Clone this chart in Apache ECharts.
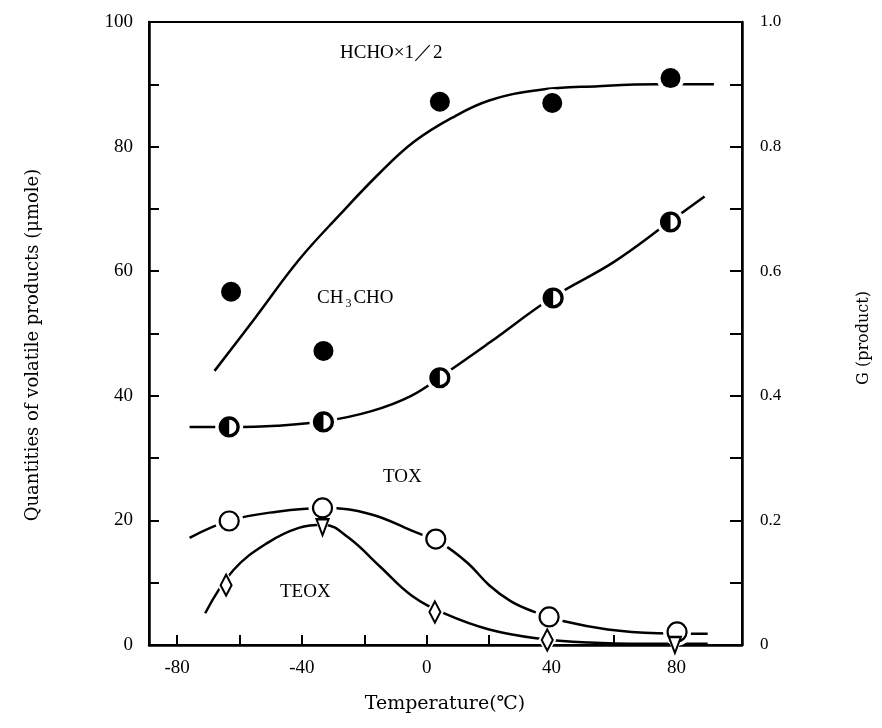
<!DOCTYPE html>
<html>
<head>
<meta charset="utf-8">
<script src="https://cdn.jsdelivr.net/npm/echarts@6/dist/echarts.min.js"></script>
<style>html,body{margin:0;padding:0;background:#fff}#c{width:882px;height:728px}</style>
</head>
<body>
<div id="c"></div>
<script>
// ---- data ----
const xTicks = [-80, -60, -40, -20, 0, 20, 40, 60, 80];
const xLabels = [-80, -40, 0, 40, 80];
const yTicks = [0, 10, 20, 30, 40, 50, 60, 70, 80, 90, 100];
const yLabels = [0, 20, 40, 60, 80, 100];
const gTicks = [0, 0.1, 0.2, 0.3, 0.4, 0.5, 0.6, 0.7, 0.8, 0.9, 1.0];
const gLabels = [0, 0.2, 0.4, 0.6, 0.8, 1.0];

// measured points [temperature, quantity]
const hchoPoints   = [[-62.7, 56.7], [-33.1, 47.2], [4.2, 87.2], [40.2, 87.0], [78.1, 91.0]];
const ch3choPoints = [[-63.3, 35.0], [-33.1, 35.8], [4.2, 42.9], [40.5, 55.7], [78.1, 67.9]];
const toxPoints    = [[-63.3, 19.9], [-33.4, 22.0], [2.9, 17.0], [39.2, 4.5], [80.2, 2.1]];
const teoxPoints   = [[-64.3, 9.6], [2.6, 5.3], [38.6, 0.8]];
const triPoints    = [[-33.4, 18.9], [79.5, 0.0]];

// fitted curves as drawn [temperature, quantity]
const hchoCurve = [[-68, 44], [-55, 52.5], [-41, 61.8], [-28, 69], [-15, 75.8], [-4, 80.8], [8, 84.6],
  [20, 87.4], [36, 89.1], [55, 89.7], [74, 90], [92, 90]];
const ch3choCurve = [[-76, 35], [-63, 35], [-48, 35.2], [-33, 35.9], [-18, 37.5], [-5, 40],
  [6, 43.6], [20, 48.5], [40, 55.7], [60, 61.5], [78, 68], [89, 72]];
const toxCurve = [[-76, 17.2], [-63, 20], [-48, 21.4], [-33, 22], [-18, 21], [-5, 18.4],
  [5, 16.2], [13, 13.2], [20, 9.6], [27, 7.0], [34, 5.4], [44, 3.8], [58, 2.5], [74, 1.9], [90, 1.8]];
const teoxCurve = [[-71, 5.1], [-62, 12], [-51, 16.4], [-41, 18.8], [-33, 19.3], [-25, 17.2],
  [-15, 12.6], [-5, 8.0], [6, 5.0], [20, 2.5], [35, 1.1], [52, 0.4], [70, 0.2], [90, 0.2]];

// ---- chart ----
const FONT = 'Liberation Serif';
const halfSymbol = 'path://M50,0A50,50,0,1,0,50,100A50,50,0,1,0,50,0ZM50,12A38,38,0,0,1,50,88L50,12Z';
const chart = echarts.init(document.getElementById('c'), null, {renderer: 'canvas'});

function curve(data) {
  return {type: 'line', data: data, smooth: 0.4, showSymbol: false, silent: true, z: 2,
    lineStyle: {color: '#000', width: 2.5}, clip: false};
}
function halo(data, symbol, size) {
  return {type: 'scatter', data: data, symbol: symbol, symbolSize: size, silent: true, z: 3, clip: false,
    itemStyle: {color: '#fff', borderWidth: 0, opacity: 1}};
}
function marker(data, symbol, size, fill, extra) {
  return Object.assign({type: 'scatter', data: data, symbol: symbol, symbolSize: size, silent: true, z: 4, clip: false,
    itemStyle: {color: fill, opacity: 1, borderColor: '#000', borderWidth: fill === '#000' ? 0 : 2.2}}, extra || {});
}

const axisLabelStyle = {color: '#000', fontFamily: FONT, fontSize: 19};

chart.setOption({
  animation: false,
  backgroundColor: '#fff',
  grid: {left: 149, right: 140, top: 22, bottom: 83, show: true, borderColor: '#000', borderWidth: 2, backgroundColor: 'transparent'},
  xAxis: {
    type: 'value', min: -89, max: 101,
    axisLine: {show: true, onZero: false, lineStyle: {color: '#000', width: 2.5}},
    axisTick: {show: true, inside: true, length: 10, lineStyle: {color: '#000', width: 2}, customValues: xTicks},
    axisLabel: Object.assign({margin: 14, customValues: xLabels}, axisLabelStyle),
    splitLine: {show: false}
  },
  yAxis: [{
    type: 'value', min: 0, max: 100, position: 'left',
    axisLine: {show: true, onZero: false, lineStyle: {color: '#000', width: 2.5}},
    axisTick: {show: true, inside: true, length: 10, lineStyle: {color: '#000', width: 2}, customValues: yTicks},
    axisLabel: Object.assign({margin: 16, customValues: yLabels}, axisLabelStyle),
    splitLine: {show: false}
  }, {
    type: 'value', min: 0, max: 1, position: 'right',
    axisLine: {show: true, onZero: false, lineStyle: {color: '#000', width: 2.5}},
    axisTick: {show: true, inside: true, length: 12, lineStyle: {color: '#000', width: 2}, customValues: gTicks},
    axisLabel: Object.assign({margin: 18, customValues: gLabels,
      formatter: function (v) { return v === 0 ? '0' : v.toFixed(1); }}, axisLabelStyle, {fontSize: 17}),
    splitLine: {show: false}
  }],
  series: [
    curve(hchoCurve), curve(ch3choCurve), curve(toxCurve), curve(teoxCurve),
    halo(hchoPoints, 'circle', 28), halo(ch3choPoints, 'circle', 28), halo(toxPoints, 'circle', 28),
    halo(teoxPoints, 'diamond', [18, 29]),
    Object.assign(halo(triPoints, 'triangle', [18, 22]), {symbolRotate: 180}),
    marker(hchoPoints, 'circle', 20, '#000'),
    marker(ch3choPoints, 'circle', 19, '#fff'),
    Object.assign(marker(ch3choPoints, halfSymbol, 19, '#000'), {z: 5}),
    marker(toxPoints, 'circle', 19, '#fff'),
    marker(teoxPoints, 'diamond', [11, 21], '#fff'),
    marker(triPoints, 'triangle', [12, 16], '#fff', {symbolRotate: 180})
  ],
  graphic: [
    {type: 'text', left: 340, top: 44, silent: true,
      style: {text: 'HCHO×1／2', fill: '#000', font: '19px "Liberation Serif"'}},
    {type: 'text', left: 317, top: 289, silent: true,
      style: {text: '{n|CH}{s|3}{n|CHO}', fill: '#000',
        rich: {n: {fontFamily: FONT, fontSize: 19, fill: '#000'},
               s: {fontFamily: FONT, fontSize: 12, fill: '#000', padding: [10, 2, 0, 2]}}}},
    {type: 'text', left: 383, top: 468, silent: true,
      style: {text: 'TOX', fill: '#000', font: '19px "Liberation Serif"'}},
    {type: 'text', left: 280, top: 583, silent: true,
      style: {text: 'TEOX', fill: '#000', font: '19px "Liberation Serif"'}},
    {type: 'text', x: 33, y: 345, rotation: Math.PI / 2, silent: true,
      style: {text: 'Quantities of volatile products (μmole)', fill: '#000', font: '18px "DejaVu Serif"',
        align: 'center', verticalAlign: 'middle'}},
    {type: 'text', x: 864, y: 338, rotation: Math.PI / 2, silent: true,
      style: {text: 'G (product)', fill: '#000', font: '16px "DejaVu Serif"',
        align: 'center', verticalAlign: 'middle'}},
    {type: 'text', x: 445, y: 704, silent: true,
      style: {text: 'Temperature(℃)', fill: '#000', font: '19px "DejaVu Serif"',
        align: 'center', verticalAlign: 'middle'}}
  ]
});
</script>
</body>
</html>
